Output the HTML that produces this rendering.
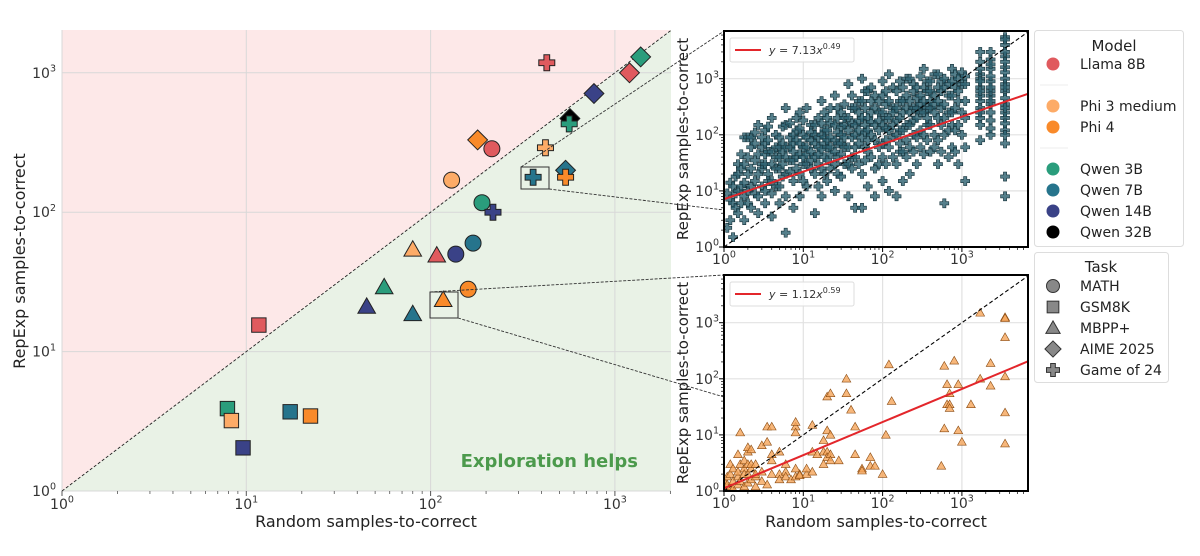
<!DOCTYPE html>
<html><head><meta charset="utf-8">
<style>
html,body{margin:0;padding:0;background:#fff;}
svg{display:block;font-family:"DejaVu Sans","Liberation Sans",sans-serif;}
</style></head>
<body>
<svg id="fig" width="1200" height="556" viewBox="0 0 1200 556" xmlns="http://www.w3.org/2000/svg">
<defs>
<clipPath id="clipMain"><rect x="62" y="30" width="609" height="461"/></clipPath>
<clipPath id="clipTop"><rect x="724" y="31" width="304" height="216"/></clipPath>
<clipPath id="clipBot"><rect x="724" y="275" width="304" height="216"/></clipPath>
</defs>
<g id="main"></g>
<g id="top"></g>
<g id="bot"></g>
<g id="legend"></g>
</svg>
<script>
// ---------- data: main chart ----------
const modelNames = ["Llama 8B","Phi 3 medium","Phi 4","Qwen 3B","Qwen 7B","Qwen 14B","Qwen 32B"];
const modelColors = ["#e05a5e","#fdab67","#f98a2a","#2a9d7c","#26748c","#3a4287","#000000"];
const taskNames = ["MATH","GSM8K","MBPP+","AIME 2025","Game of 24"];
const taskShapes = ["circle","square","triangle","diamond","plus"];
const pointModel = [0,3,0,5,6,3,1,2,0,1,4,4,2,3,5,4,1,0,5,2,2,3,5,4,0,3,1,4,2,5];
const pointTask  = [4,3,3,3,3,4,4,3,0,0,3,4,4,0,4,0,2,2,0,0,2,2,2,2,1,1,1,1,1,1];
const randomVals = [427,1380,1200,770,570,565,420,180,215,130,540,360,540,190,218,170,80,108,137,160,117,56,45,80,11.7,7.9,8.3,17.3,22.3,9.6];
const repexpVals = [1180,1300,1000,710,470,430,290,330,285,170,200,178,178,117,100,60,54,49,50,28,23.5,29,21,18.6,15.5,3.9,3.2,3.7,3.45,2.04];
const mainTicks = [1,10,100,1000];

// ---------- data: top inset (Game of 24, Qwen 7B) ----------
const topX = [1.1,1.2,1.3,1.4,1.5,1.65,1.8,2,2.2,2.45,2.7,3,3.3,3.6,4,4.5,5,5.5,6,6.8,7.5,8.2,9,10,11,12.5,14,15.5,17,18.5,20,22,25,27,30,33,37,41,45,50,55,60,65,72,80,90,100,110,120,135,150,165,180,200,220,245,270,300,330,365,400,450,500,550,600,680,750,820,900,1000,1100,1700,2300,3500];
const topY = [[2.2,9],[3,14,7],[1.5,12,6],[5,18,9],[4,20,10,30],[6,25,12,45],[3,90,30,14,8],[10,40,20,90,6],[5,60,25,12,90],[15,35,70,9,110],[8,150,45,20,4],[12,60,25,90,30],[10,70,30,120,6,45],[20,50,15,80,140],[3.5,15,50,200,9,30],[25,60,100,12,40],[25,90,40,12,6,60],[30,140,18,70,50],[1.8,150,60,20,8,300,40],[35,90,22,60,160],[35,100,15,70,5,50],[40,120,25,80,200],[45,20,130,8,250,70],[30,60,100,15,180,40],[60,300,30,12,90,45],[50,150,25,80,35,110],[4,150,40,20,70,100],[60,200,30,90,45,12],[100,400,25,8,55,160],[70,120,40,250,20,90],[200,35,60,15,120,80],[90,160,45,25,300,60],[500,80,30,10,150,50],[110,200,40,70,20,300],[45,250,18,100,70,140],[150,60,350,30,90,200],[120,800,30,8,200,60],[90,300,40,160,25,500],[60,300,5,150,40,100],[180,70,400,30,120,250],[1000,90,20,400,5,200],[150,300,60,110,35,600],[200,50,120,12,600,80],[250,100,400,40,170,700],[80,300,25,8,150,500],[120,250,60,400,30,180],[150,500,40,15,250,70,900],[200,80,350,30,600,130],[1200,200,60,10,400,120],[150,300,90,700,40,250],[100,300,30,600,8,180],[200,400,70,900,120,50],[250,700,50,120,15,400],[300,150,500,80,1000,40],[150,1000,60,400,20,250],[300,600,100,180,50,800],[300,90,700,200,30,450],[250,500,120,1100,60,350],[1500,400,100,45,250,700],[300,600,150,900,80,200],[600,150,50,300,900,400],[250,500,100,1200,60,350],[200,1200,80,400,30,700],[300,600,150,900,50],[350,700,100,6,200,1000],[250,500,120,800,40],[250,1500,60,500,150,900],[300,700,120,1200,50],[400,150,1000,30,600],[250,800,100,1300],[800,200,15,400,1100,60],[80,200,400,700,1200,2000,300,150,500,1000,250,600,900,1500,3000],[100,250,500,900,1500,3000,600,180,350,2200,700,1100,1800,400,130],[8,18,70,120,200,350,600,1000,1600,2500,4000,5500,800,250,160,450,3000,1300,2000,700,300,100,5000]];
const topFit = [7.13,0.49];

// ---------- data: bottom inset (MBPP+, Phi 4) ----------
const botX = [1,1.1,1.2,1.3,1.5,1.6,1.8,2,2.2,2.5,3,3.5,4,5,6,7,8,9,11,13,15,18,20,22,28,35,40,45,55,70,80,100,110,120,130,550,600,650,700,800,900,1000,1300,1700,2300,3500];
const botY = [[1,1.2,1.5,1.1],[1.3,1.8,1],[2,1.2,3],[1.5,2.5,1.1],[4.5,1.8,2.2,1.3],[11,3,1.5],[2.5,1.2,3.5,2],[5,6,2,1.4,3],[5.5,2.5,1.6,3],[3,1.8,1.2,2],[6.5,2.2,1.5],[14,7.5,1.3],[14,3.5,2,4.5],[5,2,1.6],[2.2,3,1.8],[1.6],[14,17,1.8,2.5,11],[2,1.9],[2,2.5],[15,2.2,5],[4.5],[3,8,5],[12,48,5,4],[10,55,4.5,3.5],[3.5],[100,55],[28],[4.5,14],[2.5,2.3],[4,2.8],[2.8],[2],[10],[180],[40],[2.8],[170,13],[80,35],[55,35,30],[210],[80,12],[7.5],[35],[1500,100],[190,75],[1250,1200,550,110,25,7]];
const botFit = [1.12,0.59];
const insetTicks = [1,10,100,1000];

const NS="http://www.w3.org/2000/svg";
function el(tag, attrs, parent){const e=document.createElementNS(NS,tag);for(const k in attrs)e.setAttribute(k,attrs[k]);if(parent)parent.appendChild(e);return e;}
const L=Math.log10;

function marker(g, shape, cx, cy, s, fill, stroke, sw, op){
  let e;
  if(shape==="circle") e=el("circle",{cx:cx,cy:cy,r:s*0.5},g);
  else if(shape==="square") e=el("rect",{x:cx-s*0.45,y:cy-s*0.45,width:s*0.9,height:s*0.9},g);
  else if(shape==="triangle"){const h=s*0.55;e=el("polygon",{points:`${cx},${cy-h} ${cx+h},${cy+h*0.75} ${cx-h},${cy+h*0.75}`},g);}
  else if(shape==="diamond"){const h=s*0.62;e=el("polygon",{points:`${cx},${cy-h} ${cx+h},${cy} ${cx},${cy+h} ${cx-h},${cy}`},g);}
  else {const a=s*0.5,b=s*0.18;e=el("polygon",{points:`${cx-b},${cy-a} ${cx+b},${cy-a} ${cx+b},${cy-b} ${cx+a},${cy-b} ${cx+a},${cy+b} ${cx+b},${cy+b} ${cx+b},${cy+a} ${cx-b},${cy+a} ${cx-b},${cy+b} ${cx-a},${cy+b} ${cx-a},${cy-b} ${cx-b},${cy-b}`},g);}
  e.setAttribute("fill",fill);e.setAttribute("stroke",stroke);e.setAttribute("stroke-width",sw);
  if(op!==undefined)e.setAttribute("fill-opacity",op);
  return e;
}
function sup(g,x,y,exp,anchor,size,name){
  const t=el("text",{x:x,y:y,"text-anchor":anchor,"font-size":size,fill:"#333"},g);
  
  
  t.appendChild(document.createTextNode("10"));
  const s=el("tspan",{dy:-size*0.45,"font-size":size*0.68},t);s.textContent=exp;
  return t;
}

// ---------- main chart ----------
(function(){
  const g=document.getElementById("main");
  const x0=62,x1=671,y0=30,y1=491,dx=184.3,dy=139.4;
  const X=v=>x0+L(v)*dx, Y=v=>y1-L(v)*dy;
  const maxv=Math.pow(10,(x1-x0)/dx);
  const pink=el("polygon",{points:`${x0},${y1} ${x0},${y0} ${x1},${y0}`,fill:"#fde8e8"},g);
  
  
  const green=el("polygon",{points:`${x0},${y1} ${x1},${y0} ${x1},${y1}`,fill:"#e9f2e6"},g);
  
  
  mainTicks.forEach((t,i)=>{
    el("line",{x1:X(t),x2:X(t),y1:y0,y2:y1,stroke:"#d8d8d8","stroke-width":1},g);
    el("line",{x1:x0,x2:x1,y1:Y(t),y2:Y(t),stroke:"#d8d8d8","stroke-width":1},g);
    sup(g,X(t),y1+18,String(i),"middle",14,"x-tick-label");
    sup(g,x0-6,Y(t)+5,String(i),"end",14,"y-tick-label");
    for(let m=2;m<10;m++){const v=t*m;if(v<maxv){
      el("line",{x1:X(v),x2:X(v),y1:y1,y2:y1+3,stroke:"#555","stroke-width":0.8},g);}}
    el("line",{x1:X(t),x2:X(t),y1:y1,y2:y1+5,stroke:"#555","stroke-width":1},g);
  });
  const diag=el("line",{x1:X(1),y1:Y(1),x2:X(maxv),y2:Y(maxv),stroke:"#222","stroke-width":0.9,"stroke-dasharray":"3,2"},g);
  
  
  const txt=el("text",{x:638,y:467,"text-anchor":"end","font-size":18,"font-weight":"bold",fill:"#4c9a4c"},g);
  txt.textContent="Exploration helps";
  
  
  const pg=el("g",{"clip-path":"url(#clipMain)"},g);
  randomVals.forEach((v,i)=>{
    const m=marker(pg,taskShapes[pointTask[i]],X(v),Y(repexpVals[i]),16,modelColors[pointModel[i]],"#222",1);
    
    
  });
  [[521,167,549,189,724,31,724,210],[430,292,458,318,724,275,724,397]].forEach((b,k)=>{
    const r=el("rect",{x:b[0],y:b[1],width:b[2]-b[0],height:b[3]-b[1],fill:"none",stroke:"#333","stroke-width":1},g);
    
    
    el("line",{x1:b[0],y1:b[1],x2:b[4],y2:b[5],stroke:"#333","stroke-width":0.9,"stroke-dasharray":"3,1.5"},g);
    el("line",{x1:b[2],y1:b[3],x2:b[6],y2:b[7],stroke:"#333","stroke-width":0.9,"stroke-dasharray":"3,1.5"},g);
  });
  const xl=el("text",{x:366,y:527,"text-anchor":"middle","font-size":16,fill:"#222"},g);
  xl.textContent="Random samples-to-correct";
  
  
  const yl=el("text",{x:0,y:0,"text-anchor":"middle","font-size":16,fill:"#222",transform:"translate(25,261) rotate(-90)"},g);
  yl.textContent="RepExp samples-to-correct";
  
  
})();

// ---------- insets ----------
function inset(id, top, xs, ys, fit, kind, showX){
  const g=document.getElementById(id);
  const x0=724,x1=1028,dx=79.3,dy=56.1,y1=top+216;
  const X=v=>x0+L(v)*dx, Y=v=>y1-L(v)*dy;
  const maxv=Math.pow(10,(x1-x0)/dx);
  el("rect",{x:x0,y:top,width:x1-x0,height:216,fill:"#fff"},g);
  insetTicks.forEach((t,i)=>{
    el("line",{x1:X(t),x2:X(t),y1:top,y2:y1,stroke:"#e2e2e2","stroke-width":1.2},g);
    el("line",{x1:x0,x2:x1,y1:Y(t),y2:Y(t),stroke:"#e2e2e2","stroke-width":1.2},g);
    sup(g,X(t),y1+17,String(i),"middle",14,"inset-x-tick-label");
    sup(g,x0-5,Y(t)+5,String(i),"end",14,"inset-y-tick-label");
    el("line",{x1:X(t),x2:X(t),y1:y1,y2:y1+5,stroke:"#000","stroke-width":1},g);
    el("line",{x1:x0-5,x2:x0,y1:Y(t),y2:Y(t),stroke:"#000","stroke-width":1},g);
    for(let m=2;m<10;m++){const v=t*m;if(v<maxv){
      el("line",{x1:X(v),x2:X(v),y1:y1,y2:y1+3,stroke:"#000","stroke-width":0.7},g);
      el("line",{x1:x0-3,x2:x0,y1:Y(v),y2:Y(v),stroke:"#000","stroke-width":0.7},g);}}
  });
  const cg=el("g",{"clip-path":`url(#${id==="top"?"clipTop":"clipBot"})`},g);
  xs.forEach((x,i)=>ys[i].forEach(y=>{
    const m = kind==="plus" ? marker(cg,"plus",X(x),Y(y),9,"#2a5f6e","#16323a",0.6,0.8)
                            : marker(cg,"triangle",X(x),Y(y),8,"#f5a55a","#8a4a10",0.6,0.8);
    
    
  }));
  const dl=el("line",{x1:X(1),y1:Y(1),x2:X(maxv),y2:Y(maxv),stroke:"#000","stroke-width":1.1,"stroke-dasharray":"4,2.5"},cg);
  
  
  const fl=el("line",{x1:X(1),y1:Y(fit[0]),x2:X(maxv),y2:Y(fit[0]*Math.pow(maxv,fit[1])),stroke:"#e3262b","stroke-width":2},cg);
  
  
  el("rect",{x:x0,y:top,width:x1-x0,height:216,fill:"none",stroke:"#000","stroke-width":2},g);
  const lg=el("g",{},g);
  
  
  el("rect",{x:730,y:top+7,width:124,height:24,rx:2,fill:"#fff","fill-opacity":0.85,stroke:"#ddd","stroke-width":1},lg);
  el("line",{x1:735,x2:761,y1:top+19,y2:top+19,stroke:"#e3262b","stroke-width":2},lg);
  const t=el("text",{x:769,y:top+23,"font-size":11,fill:"#333","font-style":"italic"},lg);
  t.textContent="y";
  const t2=el("tspan",{"font-style":"normal"},t);t2.textContent=" = "+fit[0].toFixed(2);
  const t3=el("tspan",{},t);t3.textContent="x";
  const t4=el("tspan",{dy:-5,"font-size":8,"font-style":"normal"},t);t4.textContent=fit[1].toFixed(2);
  const yl=el("text",{x:0,y:0,"text-anchor":"middle","font-size":15,fill:"#222",transform:`translate(688,${top+108}) rotate(-90)`},g);
  yl.textContent="RepExp samples-to-correct";
  
  
  if(showX){
    const xl=el("text",{x:876,y:527,"text-anchor":"middle","font-size":16,fill:"#222"},g);
    xl.textContent="Random samples-to-correct";
    
    
  }
}
inset("top",31,topX,topY,topFit,"plus",false);
inset("bot",275,botX,botY,botFit,"tri",true);

// ---------- legends ----------
(function(){
  const g=document.getElementById("legend");
  el("rect",{x:1034.5,y:30.5,width:149,height:216,rx:3,fill:"#fff",stroke:"#ddd","stroke-width":1},g);
  const tt=el("text",{x:1114,y:51,"text-anchor":"middle","font-size":15,fill:"#222"},g);tt.textContent="Model";
  const ys=[64,106,127,169,190,211,232];
  modelNames.forEach((n,i)=>{
    const c=el("circle",{cx:1053,cy:ys[i],r:6.5,fill:modelColors[i]},g);
    
    
    const t=el("text",{x:1080,y:ys[i]+5,"font-size":14,fill:"#222"},g);t.textContent=n;
    
    
  });
  el("line",{x1:1040,x2:1068,y1:85,y2:85,stroke:"#eee","stroke-width":1},g);
  el("line",{x1:1040,x2:1068,y1:148,y2:148,stroke:"#eee","stroke-width":1},g);
  el("rect",{x:1034.5,y:252.5,width:134,height:130,rx:3,fill:"#fff",stroke:"#ddd","stroke-width":1},g);
  const t2=el("text",{x:1101,y:272,"text-anchor":"middle","font-size":15,fill:"#222"},g);t2.textContent="Task";
  const ty=[286,307,328,349,370];
  taskNames.forEach((n,i)=>{
    const m=marker(g,taskShapes[i],1053,ty[i],13,"#888","#333",1);
    
    
    const t=el("text",{x:1080,y:ty[i]+5,"font-size":14,fill:"#222"},g);t.textContent=n;
    
    
  });
})();
</script>
</body></html>
